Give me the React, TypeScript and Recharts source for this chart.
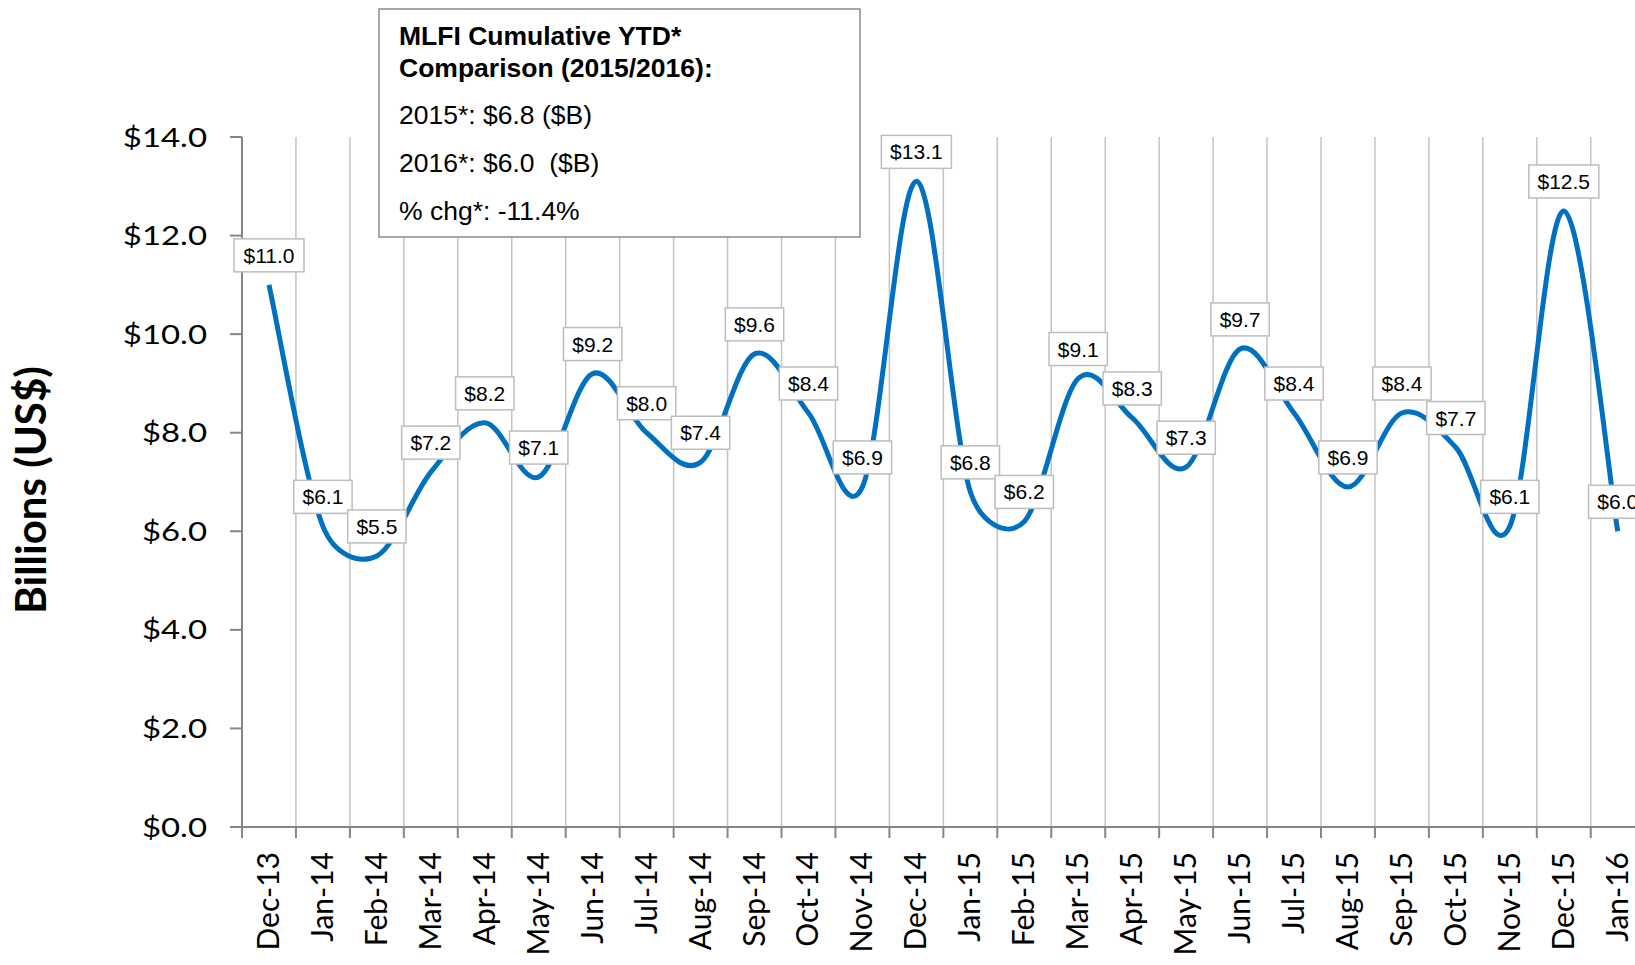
import { LineChart, Line, XAxis, YAxis, ReferenceLine, LabelList, Label } from 'recharts';

const MONTHS = [
    'Dec-13', 'Jan-14', 'Feb-14', 'Mar-14', 'Apr-14', 'May-14', 'Jun-14', 'Jul-14', 'Aug-14',
    'Sep-14', 'Oct-14', 'Nov-14', 'Dec-14', 'Jan-15', 'Feb-15', 'Mar-15', 'Apr-15', 'May-15',
    'Jun-15', 'Jul-15', 'Aug-15', 'Sep-15', 'Oct-15', 'Nov-15', 'Dec-15', 'Jan-16',
];

// monthly volume, billions US$
const VALUES = [
    11.0, 6.1, 5.5, 7.2, 8.2, 7.1, 9.2, 8.0, 7.4, 9.6, 8.4, 6.9, 13.1,
    6.8, 6.2, 9.1, 8.3, 7.3, 9.7, 8.4, 6.9, 8.4, 7.7, 6.1, 12.5, 6.0,
];

const Y_TICKS = [0, 2, 4, 6, 8, 10, 12, 14];

const BOX_TITLE = ['MLFI Cumulative YTD*', 'Comparison (2015/2016):'];
const BOX_LINES = ['2015*: $6.8 ($B)', '2016*: $6.0  ($B)', '% chg*: -11.4%'];

const data = MONTHS.map((month, i) => ({ idx: i, month, value: VALUES[i] }));

// category boundaries (gridlines / tick marks) and centers (labels)
const BOUNDS = Array.from({ length: MONTHS.length + 1 }, (_, i) => i - 0.5);
const X_TICKS = [...BOUNDS, ...MONTHS.map((_, i) => i)].sort((a, b) => a - b);

const AXIS_GRAY = '#868686';
const GRID_GRAY = '#c3c3c3';
const AXIS_FONT = 'Lato, "Open Sans", sans-serif';
const LABEL_FONT = '"Liberation Sans", Arial, sans-serif';

const dist = (a: number[], b: number[]) => Math.hypot(b[0] - a[0], b[1] - a[1]);

// Excel-like smoothing: bezier with 1/6 tangents, capped at half the segment length
function excelSmooth(context: any) {
    let pts: number[][] = [];
    return {
        areaStart() {},
        areaEnd() {},
        lineStart() {
            pts = [];
        },
        point(x: number, y: number) {
            pts.push([+x, +y]);
        },
        lineEnd() {
            const n = pts.length;
            if (!n) return;
            context.moveTo(pts[0][0], pts[0][1]);
            for (let i = 0; i < n - 1; i++) {
                const p0 = pts[Math.max(i - 1, 0)];
                const p1 = pts[i];
                const p2 = pts[i + 1];
                const p3 = pts[Math.min(i + 2, n - 1)];
                const d12 = dist(p1, p2);
                const d02 = dist(p0, p2) || 1;
                const d13 = dist(p1, p3) || 1;
                const f = d02 / 6 < d12 / 2 ? 1 / 6 : d12 / 2 / d02;
                const g = d13 / 6 < d12 / 2 ? 1 / 6 : d12 / 2 / d13;
                context.bezierCurveTo(
                    p1[0] + (p2[0] - p0[0]) * f,
                    p1[1] + (p2[1] - p0[1]) * f,
                    p2[0] - (p3[0] - p1[0]) * g,
                    p2[1] - (p3[1] - p1[1]) * g,
                    p2[0],
                    p2[1],
                );
            }
        },
    };
}

function XTick(props: any) {
    const { x, y, payload } = props;
    const v = payload.value;
    if (!Number.isInteger(v)) {
        return <line x1={x} x2={x} y1={y - 11} y2={y} stroke={AXIS_GRAY} strokeWidth={2} />;
    }
    return (
        <text
            transform={`translate(${x + 10},${y + 14}) rotate(-90)`}
            textAnchor="end"
            fontFamily={AXIS_FONT}
            fontSize={30}
            fill="#000"
        >
            {MONTHS[v]}
        </text>
    );
}

function YTick(props: any) {
    const { x, y, payload } = props;
    return (
        <text
            transform={`translate(${x - 2},${y + 9.5}) scale(1.22,1)`}
            textAnchor="end"
            fontFamily={AXIS_FONT}
            fontSize={27}
            fill="#000"
        >
            {`$${payload.value.toFixed(1)}`}
        </text>
    );
}

function textWidth(s: string, size: number) {
    let w = 0;
    for (const ch of s) w += ch === '.' ? 0.278 : 0.556;
    return w * size;
}

function DataLabel(props: any) {
    const { x, y, value } = props;
    const txt = `$${Number(value).toFixed(1)}`;
    const w = textWidth(txt, 21) + 17.5;
    const h = 33;
    const cy = y - 29.5;
    return (
        <g>
            <rect x={x - w / 2} y={cy - h / 2} width={w} height={h} fill="#fff" stroke="#bdbdbd" strokeWidth={1.5} />
            <text x={x} y={cy + 7.5} textAnchor="middle" fontFamily={LABEL_FONT} fontSize={21} fill="#000">
                {txt}
            </text>
        </g>
    );
}

export default function App() {
    return (
        <div style={{ position: 'relative', width: 1635, height: 965, overflow: 'hidden', background: '#fff' }}>
            <style>{'body{margin:0}'}</style>
            <LineChart
                width={1648}
                height={965}
                data={data}
                margin={{ top: 137, right: 3.3, bottom: 0, left: 0 }}
            >
                <XAxis
                    type="number"
                    dataKey="idx"
                    domain={[-0.5, MONTHS.length - 0.5]}
                    ticks={X_TICKS}
                    interval={0}
                    tickLine={false}
                    tickSize={11}
                    tickMargin={0}
                    axisLine={{ stroke: AXIS_GRAY, strokeWidth: 2 }}
                    tick={<XTick />}
                    height={138}
                />
                <YAxis
                    type="number"
                    domain={[0, 14]}
                    ticks={Y_TICKS}
                    interval={0}
                    width={242}
                    tickSize={12}
                    tickMargin={21}
                    axisLine={{ stroke: AXIS_GRAY, strokeWidth: 2 }}
                    tickLine={{ stroke: AXIS_GRAY, strokeWidth: 2 }}
                    tick={<YTick />}
                >
                    <Label
                        content={(p: any) => {
                            const vb = p.viewBox || { x: 0, y: 137, height: 690 };
                            return (
                                <text
                                    transform={`translate(${vb.x + 46},${vb.y + vb.height / 2 + 8}) rotate(-90)`}
                                    textAnchor="middle"
                                    fontFamily={AXIS_FONT}
                                    fontWeight={700}
                                    fontSize={42}
                                    fill="#000"
                                >
                                    Billions (US$)
                                </text>
                            );
                        }}
                    />
                </YAxis>
                {BOUNDS.slice(1).map(b => (
                    <ReferenceLine key={b} x={b} stroke={GRID_GRAY} strokeWidth={1.5} />
                ))}
                <Line
                    type={excelSmooth as any}
                    dataKey="value"
                    stroke="#0070C0"
                    strokeWidth={5}
                    dot={false}
                    activeDot={false}
                    isAnimationActive={false}
                >
                    <LabelList dataKey="value" content={<DataLabel />} />
                </Line>
            </LineChart>
            <svg width={1635} height={965} style={{ position: 'absolute', left: 0, top: 0, pointerEvents: 'none' }}>
                <rect x={379} y={9} width={481} height={228} fill="#fff" stroke="#8a8a8a" strokeWidth={1.5} />
                {BOX_TITLE.map((t, i) => (
                    <text key={t} x={399} y={45 + i * 31.5} fontFamily={LABEL_FONT} fontWeight={700} fontSize={26.5} fill="#000">
                        {t}
                    </text>
                ))}
                {BOX_LINES.map((t, i) => (
                    <text key={t} x={399} y={124 + i * 48} fontFamily={LABEL_FONT} fontSize={26.5} fill="#000" xmlSpace="preserve">
                        {t}
                    </text>
                ))}
            </svg>
        </div>
    );
}
